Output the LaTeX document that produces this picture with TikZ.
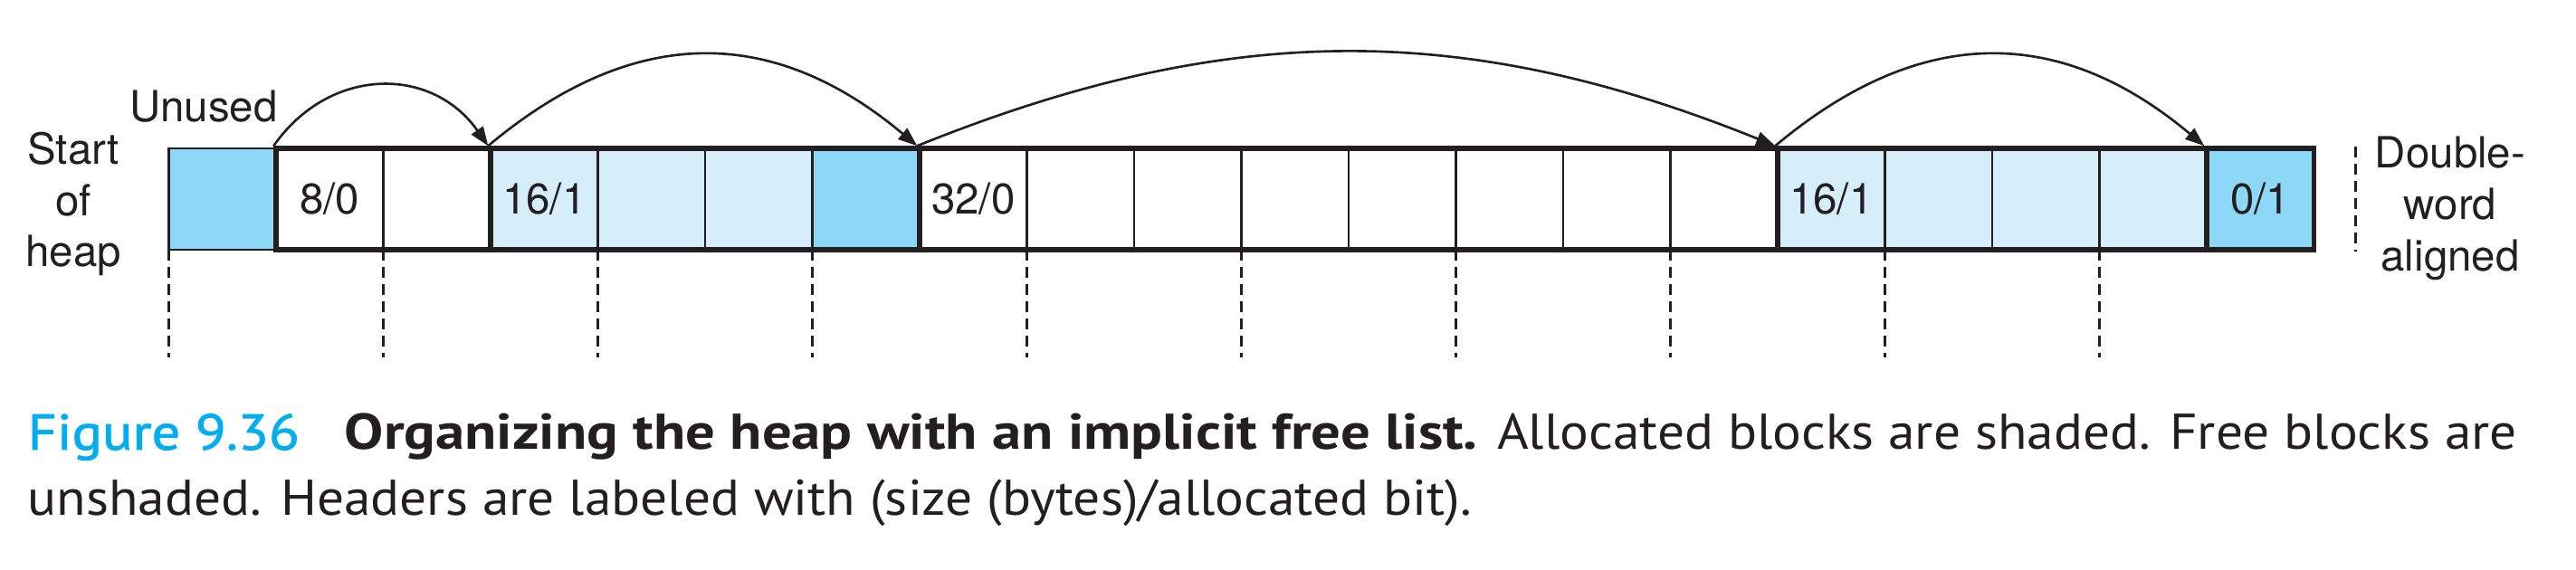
\documentclass[tikz,border=0pt]{standalone}
\usepackage{fontspec}
\setmainfont{TeX Gyre Heros}
\newfontfamily\capfont{PT Sans}[FakeStretch=1.07]
\newfontfamily\captitle{PT Sans}[FakeStretch=1.165]
\newfontfamily\capnum{PT Sans}[FakeStretch=1.12, FakeBold=1.6]
\usetikzlibrary{arrows.meta,fit}

\definecolor{heapmid}{HTML}{8DD8F6}
\definecolor{heaplight}{HTML}{D6EDFA}
\definecolor{figcyan}{HTML}{00AEEF}
\definecolor{inkgray}{HTML}{231F20}

\tikzset{
  cell/.style={draw=inkgray, line width=0.8pt, minimum width=1.185cm, minimum height=1.12cm,
    inner sep=0pt, outer sep=0pt, text=inkgray, font=\fontsize{13.5}{16.2}\selectfont},
  blk/.style={draw=inkgray, line width=1.55pt, inner sep=0pt},
  link/.style={draw=inkgray, line width=0.75pt, -{Triangle[length=6pt,width=4.4pt]}},
  guide/.style={draw=inkgray, line width=0.85pt, dash pattern=on 3.5pt off 1.9pt},
  lbl/.style={text=inkgray, font=\fontsize{13.5}{16.2}\selectfont, align=center, inner sep=0pt},
  capt/.style={text=inkgray, font=\capfont\fontsize{15.8}{19}\selectfont, inner sep=0pt},
}

\begin{document}
\begin{tikzpicture}[x=1.185cm, y=1.12cm]
    \useasboundingbox (-2.574,1.964) rectangle (21.443,-3.661);

    % start of heap
    \node[cell, fill=heapmid] (s) at (-0.5,0) {};

    % block 8/0
    \node[cell] (c0) at (0.5,0) {8/0};
    \node[cell] (c1) at (1.5,0) {};

    % block 16/1
    \node[cell, fill=heaplight] (c2) at (2.5,0) {16/1};
    \node[cell, fill=heaplight] (c3) at (3.5,0) {};
    \node[cell, fill=heaplight] (c4) at (4.5,0) {};
    \node[cell, fill=heapmid] (c5) at (5.5,0) {};

    % block 32/0
    \node[cell] (c6) at (6.5,0) {32/0};
    \node[cell] (c7) at (7.5,0) {};
    \node[cell] (c8) at (8.5,0) {};
    \node[cell] (c9) at (9.5,0) {};
    \node[cell] (c10) at (10.5,0) {};
    \node[cell] (c11) at (11.5,0) {};
    \node[cell] (c12) at (12.5,0) {};
    \node[cell] (c13) at (13.5,0) {};

    % block 16/1
    \node[cell, fill=heaplight] (c14) at (14.5,0) {16/1};
    \node[cell, fill=heaplight] (c15) at (15.5,0) {};
    \node[cell, fill=heaplight] (c16) at (16.5,0) {};
    \node[cell, fill=heaplight] (c17) at (17.5,0) {};

    % end block 0/1
    \node[cell, fill=heapmid] (c18) at (18.5,0) {0/1};

    \node[blk, fit=(c0)(c1)] (b1) {};
    \node[blk, fit=(c2)(c5)] (b2) {};
    \node[blk, fit=(c6)(c13)] (b3) {};
    \node[blk, fit=(c14)(c17)] (b4) {};
    \node[blk, fit=(c18)] (b5) {};

    \draw[link] (b1.north west) to[out=55, in=125, looseness=1.17] (b2.north west);
    \draw[link] (b2.north west) to[out=40, in=140, looseness=1.13] (b3.north west);
    \draw[link] (b3.north west) to[out=22, in=158, looseness=1.0] (b4.north west);
    \draw[link] (b4.north west) to[out=40, in=140, looseness=1.13] (b5.north west);

    % double-word marks
    \draw[guide] (s.south west) -- ++(0,-1.06);
    \draw[guide] (c0.south east) -- ++(0,-1.06);
    \draw[guide] (c2.south east) -- ++(0,-1.06);
    \draw[guide] (c4.south east) -- ++(0,-1.06);
    \draw[guide] (c6.south east) -- ++(0,-1.06);
    \draw[guide] (c8.south east) -- ++(0,-1.06);
    \draw[guide] (c10.south east) -- ++(0,-1.06);
    \draw[guide] (c12.south east) -- ++(0,-1.06);
    \draw[guide] (c14.south east) -- ++(0,-1.06);
    \draw[guide] (c16.south east) -- ++(0,-1.06);

    \coordinate (dtop) at (19.39,0.52);
    \coordinate (dbot) at (19.39,-0.52);
    \draw[guide] (dtop) -- (dbot);

    \node[lbl, anchor=base] (unused) at (-0.675,0.759) {Unused};
    \node[lbl, anchor=north] (start) at (-1.89,0.67) {Start\\of\\heap};
    \node[lbl, anchor=north] (dword) at (20.27,0.625) {Double-\\word\\aligned};

    % caption
    \node[capt, anchor=base west] (cap1) at (-2.32,-2.473)
        {{\capnum\color{figcyan}Figure 9.36}\hspace{0.5cm}{\captitle\bfseries Organizing the heap with an implicit free list.} Allocated blocks are shaded. Free blocks are};
    \node[capt, anchor=base west] (cap2) at ([yshift=-0.73cm]cap1.base west)
        {unshaded. Headers are labeled with (size (bytes)/allocated bit).};
\end{tikzpicture}
\end{document}
